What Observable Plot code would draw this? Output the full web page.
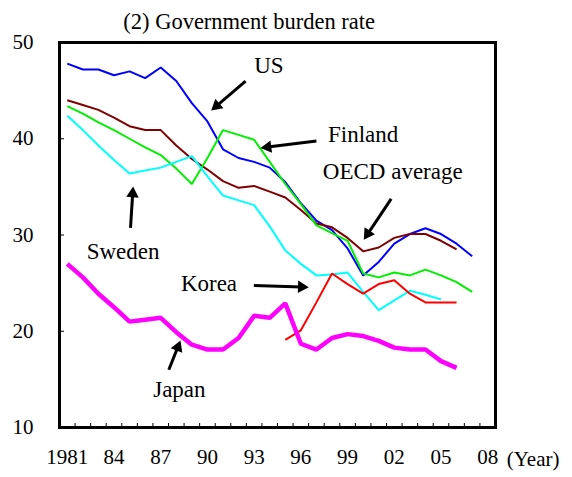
<!DOCTYPE html>
<html>
<head>
<meta charset="utf-8">
<script src="https://cdn.jsdelivr.net/npm/d3@7"></script>
<script src="https://cdn.jsdelivr.net/npm/@observablehq/plot@0.6"></script>
<style>
  html, body { margin: 0; padding: 0; background: #fff; }
  #chart svg { display: block; }
</style>
</head>
<body>
<div id="chart"></div>
<script>
// ---- data ----
const years = [1981,1982,1983,1984,1985,1986,1987,1988,1989,1990,1991,1992,1993,1994,1995,1996,1997,1998,1999,2000,2001,2002,2003,2004,2005,2006,2007];

const us      = [47.8,47.2,47.2,46.6,47.0,46.3,47.4,46.0,43.7,41.8,38.9,38.0,37.6,37.0,35.5,33.3,31.5,30.5,28.6,25.8,27.2,29.1,30.1,30.7,30.1,29.1,27.8];
const oecd    = [44.0,43.5,43.0,42.2,41.3,40.9,40.9,39.3,37.9,36.8,35.6,34.9,35.1,34.5,33.9,32.6,31.2,30.8,29.7,28.3,28.7,29.7,30.1,30.1,29.4,28.5,null];
const finland = [43.4,42.6,41.7,40.9,40.0,39.1,38.3,36.9,35.3,38.0,40.9,40.4,39.9,37.6,35.3,33.2,31.0,30.2,29.4,26.0,25.6,26.1,25.8,26.4,25.8,25.1,24.1];
const sweden  = [42.4,40.9,39.3,37.8,36.4,36.7,37.0,37.6,38.2,36.1,34.1,33.6,33.1,30.9,28.4,27.0,25.8,25.9,26.1,24.1,22.2,23.2,24.2,23.8,23.3,null,null];
const korea   = [null,null,null,null,null,null,null,null,null,null,null,null,null,null,19.1,20.1,23.0,26.0,24.9,23.9,24.9,25.3,23.9,23.0,23.0,23.0,null];
const japan   = [27.0,25.6,23.9,22.5,21.0,21.2,21.4,19.9,18.6,18.1,18.1,19.3,21.6,21.4,22.9,18.7,18.1,19.3,19.7,19.5,19.0,18.3,18.1,18.1,16.9,16.2,null];

const xLabelYears = [1981,1984,1987,1990,1993,1996,1999,2002,2005,2008];
const yTicks = [10,20,30,40,50];

const titleText = "(2) Government burden rate";
const axisUnit = "(Year)";

// annotation labels (position in data units)
const labelNames = ["US","Finland","OECD average","Sweden","Korea","Japan"];
const labelX     = [1993.95, 2000.0, 2001.9, 1984.58, 1990.1, 1988.2];
const labelY     = [47.6, 40.4, 36.6, 28.3, 24.96, 13.95];

// annotation arrows (start -> tip, data units)
const arrowX1 = [1992.45, 1997.0, 2001.8, 1985.06, 1992.98, 1987.52];
const arrowY1 = [45.98, 39.77, 33.76, 30.75, 24.75, 16.0];
const arrowX2 = [1990.24, 1993.41, 2000.04, 1985.23, 1996.51, 1988.27];
const arrowY2 = [42.94, 39.04, 29.5, 35.04, 24.58, 19.04];

// ---- build ----
const series = [
  {name: "US", values: us, color: "#0000ff", width: 2},
  {name: "OECD average", values: oecd, color: "#800000", width: 2},
  {name: "Finland", values: finland, color: "#00f000", width: 2},
  {name: "Sweden", values: sweden, color: "#00ffff", width: 2},
  {name: "Korea", values: korea, color: "#ff0000", width: 2},
  {name: "Japan", values: japan, color: "#ff00ff", width: 4.5}
];

const xMin = years[0] - 0.5, xMax = 2008.5;
const boundaries = d3.range(xMin + 1, xMax, 1);
const fmtYear = y => y === 1981 ? "1981" : String(y % 100).padStart(2, "0");

const W = 572, H = 477, mL = 59, mR = 77, mT = 42, mB = 50;
const pxX = (xMax - xMin) / (W - mL - mR);   // data units per px (x)
const pxY = (50 - 10) / (H - mT - mB);       // data units per px (y)

const labels = labelNames.map((t, i) => ({t, x: labelX[i], y: labelY[i]}));

// arrow shafts + filled triangular heads derived from arrow data
const headY = 3.6; // d3 triangle half-unit in px
const arrows = arrowX1.map((x1, i) => {
  const y1 = arrowY1[i], x2 = arrowX2[i], y2 = arrowY2[i];
  const dxp = (x2 - x1) / pxX, dyp = -(y2 - y1) / pxY; // screen px
  const len = Math.hypot(dxp, dyp);
  const ux = dxp / len, uy = dyp / len;
  const cx = x2 - ux * 2 * headY * pxX;
  const cy = y2 + uy * 2 * headY * pxY;
  const rot = Math.atan2(dxp, -dyp) * 180 / Math.PI;
  return {x1, y1, x2, y2, cx, cy, rot};
});
const headR = Math.sqrt(3 * Math.sqrt(3) * headY * headY / Math.PI);

const marks = [
  // inward ticks
  Plot.ruleX(boundaries, {x: d => d, y1: 10, y2: 10 + 4 * pxY, stroke: "black", strokeWidth: 1}),
  Plot.ruleY([20, 30, 40], {y: d => d, x1: xMin, x2: xMin + 5 * pxX, stroke: "black", strokeWidth: 1}),
  ...series.map(s => Plot.line(
    years.map((yr, i) => ({year: yr, v: s.values[i]})).filter(d => d.v != null),
    {x: "year", y: "v", stroke: s.color, strokeWidth: s.width, strokeLinejoin: "miter", strokeLinecap: "butt"}
  )),
  Plot.link(arrows, {x1: "x1", y1: "y1", x2: "cx", y2: "cy", stroke: "black", strokeWidth: 3}),
  Plot.dot(arrows, {x: "cx", y: "cy", symbol: "triangle", r: headR, rotate: "rot", fill: "black", stroke: "none"}),
  Plot.text(labels, {x: "x", y: "y", text: "t", fontSize: 23, fill: "black", textAnchor: "middle"}),
  Plot.frame({stroke: "black", strokeWidth: 3}),
  Plot.axisX({ticks: xLabelYears, tickSize: 0, tickPadding: 22, tickFormat: fmtYear, fontSize: 21, label: null}),
  Plot.axisY({ticks: yTicks, tickSize: 0, tickPadding: 26, fontSize: 21, label: null}),
  Plot.text([axisUnit], {frameAnchor: "bottom-right", text: d => d, dx: 64, dy: 38, textAnchor: "end", fontSize: 21}),
  Plot.text([titleText], {x: [1992.68], y: [52.2], text: d => d, fontSize: 22.5, textAnchor: "middle"})
];

const chart = Plot.plot({
  width: W, height: H,
  marginLeft: mL, marginRight: mR, marginTop: mT, marginBottom: mB,
  x: {type: "linear", domain: [xMin, xMax]},
  y: {type: "linear", domain: [10, 50]},
  clip: false,
  style: {fontFamily: "'Liberation Serif', 'Times New Roman', serif", background: "white", color: "black", overflow: "visible"},
  marks
});
document.getElementById("chart").appendChild(chart);
</script>
</body>
</html>
